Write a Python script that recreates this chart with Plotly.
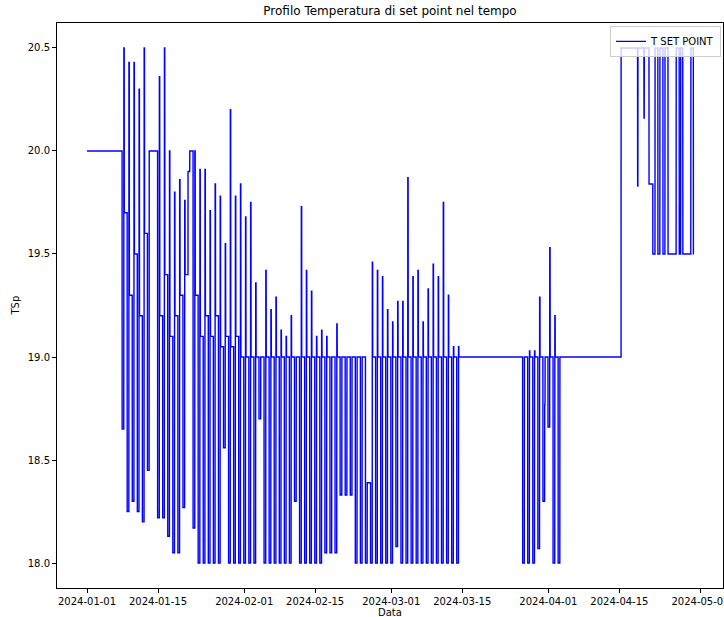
import pandas as pd
import plotly.graph_objects as go

# ---------------- data ----------------
# opening plateau
start_times = ["2024-01-01 00:00", "2024-01-07 22:00"]
start_values = [20.0, 20.0]

# daily cycles Jan 08 .. Mar 14 : night low, morning peak, day level
cycle1_start, cycle1_end = "2024-01-08", "2024-03-14"
cycle1_high = [
    20.50, 20.43, 20.43, 20.30, 20.50, 20.00, 20.00, 20.36, 20.50, 20.00,
    19.80, 19.86, 19.76, 20.00, 20.00, 19.91, 19.91, 19.71, 19.84, 19.78,
    19.55, 20.20, 19.78, 19.84, 19.68, 19.75, 19.36, 19.00, 19.42, 19.23,
    19.29, 19.13, 19.10, 19.20, 19.00, 19.73, 19.42, 19.32, 19.10, 19.13,
    19.10, 19.00, 19.16, 19.00, 19.00, 19.00, 19.00, 19.00, 18.39, 19.46,
    19.42, 19.39, 19.23, 19.17, 19.27, 19.27, 19.87, 19.39, 19.42, 19.17,
    19.33, 19.45, 19.39, 19.75, 19.30, 19.05, 19.05,
]
cycle1_low = [
    18.65, 18.25, 18.30, 18.25, 18.20, 18.45, 20.00, 18.22, 18.22, 18.13,
    18.05, 18.05, 18.27, 19.90, 18.17, 18.00, 18.00, 18.00, 18.00, 18.00,
    18.56, 18.00, 18.00, 18.00, 18.00, 18.00, 18.00, 18.70, 18.00, 18.00,
    18.00, 18.00, 18.00, 18.00, 18.30, 18.00, 18.00, 18.00, 18.00, 18.00,
    18.05, 18.05, 18.05, 18.33, 18.33, 18.33, 18.00, 18.00, 18.00, 18.00,
    18.00, 18.00, 18.00, 18.00, 18.08, 18.00, 18.00, 18.00, 18.00, 18.00,
    18.00, 18.00, 18.00, 18.00, 18.00, 18.00, 18.00,
]
cycle1_base = [
    19.70, 19.30, 19.50, 19.20, 19.60, 20.00, 20.00, 19.20, 19.40, 19.10,
    19.20, 19.30, 19.40, 20.00, 19.30, 19.10, 19.20, 19.10, 19.20, 19.05,
    19.10, 19.05, 19.10, 19.00, 19.00, 19.00, 19.00, 19.00, 19.00, 19.00,
    19.00, 19.00, 19.00, 19.00, 19.00, 19.00, 19.00, 19.00, 19.00, 19.00,
    19.00, 19.00, 19.00, 19.00, 19.00, 19.00, 19.00, 19.00, 18.39, 19.00,
    19.00, 19.00, 19.00, 19.00, 19.00, 19.00, 19.00, 19.00, 19.00, 19.00,
    19.00, 19.00, 19.00, 19.00, 19.00, 19.00, 19.00,
]

# daily cycles Mar 27 .. Apr 03
cycle2_start, cycle2_end = "2024-03-27", "2024-04-03"
cycle2_high = [19.00, 19.03, 19.03, 19.29, 18.77, 19.53, 19.20, 19.00]
cycle2_low = [18.00, 18.00, 18.00, 18.07, 18.30, 18.66, 18.00, 18.00]
cycle2_base = [19.00, 19.00, 19.00, 19.00, 19.00, 19.00, 19.00, 19.00]

# final part (Apr 15 .. Apr 29)
tail_times = [
    "2024-04-15 08:00", "2024-04-15 08:10",
    "2024-04-18 14:00", "2024-04-18 14:30", "2024-04-18 15:30", "2024-04-18 16:00",
    "2024-04-19 20:00", "2024-04-19 20:30", "2024-04-19 21:30", "2024-04-19 22:00",
    "2024-04-20 20:00", "2024-04-20 20:30", "2024-04-21 14:00", "2024-04-21 14:30",
    "2024-04-22 00:30", "2024-04-22 01:00", "2024-04-22 14:00", "2024-04-22 14:30",
    "2024-04-22 23:30", "2024-04-23 00:00", "2024-04-23 14:00", "2024-04-23 14:30",
    "2024-04-23 23:30", "2024-04-24 00:00", "2024-04-24 14:00", "2024-04-24 14:30",
    "2024-04-26 04:30", "2024-04-26 05:00", "2024-04-26 19:00", "2024-04-26 19:30",
    "2024-04-27 02:00", "2024-04-27 02:30", "2024-04-27 12:00", "2024-04-27 12:30",
    "2024-04-29 02:00", "2024-04-29 02:30", "2024-04-29 14:00", "2024-04-29 14:30",
    "2024-04-29 16:00",
]
tail_values = [
    19.0, 20.5,
    20.5, 19.83, 19.83, 20.5,
    20.5, 20.16, 20.16, 20.5,
    20.5, 19.84, 19.84, 19.5,
    19.5, 20.5, 20.5, 19.5,
    19.5, 20.5, 20.5, 19.5,
    19.5, 20.5, 20.5, 19.5,
    19.5, 20.5, 20.5, 19.5,
    19.5, 20.5, 20.5, 19.5,
    19.5, 20.5, 20.5, 19.5,
    19.5,
]

x_tick_dates = ["2024-01-01", "2024-01-15", "2024-02-01", "2024-02-15", "2024-03-01",
                "2024-03-15", "2024-04-01", "2024-04-15", "2024-05-01"]
y_ticks = [18.0, 18.5, 19.0, 19.5, 20.0, 20.5]

# ---------------- build the series ----------------
times = list(pd.to_datetime(start_times))
values = list(start_values)
H = pd.Timedelta(hours=1)


def add_cycles(start, end, highs, lows, bases, prev_base):
    days = pd.date_range(start, end, freq="D")
    for D, hi, lo, b in zip(days, highs, lows, bases):
        times.extend([D - 2 * H, D - 1.8 * H, D + 6 * H, D + 6.5 * H, D + 8 * H, D + 8.5 * H])
        values.extend([prev_base, lo, lo, hi, hi, b])
        prev_base = b
    return prev_base


last = add_cycles(cycle1_start, cycle1_end, cycle1_high, cycle1_low, cycle1_base, start_values[-1])
last = add_cycles(cycle2_start, cycle2_end, cycle2_high, cycle2_low, cycle2_base, last)
times.extend(pd.to_datetime(tail_times))
values.extend(tail_values)

# ---------------- figure ----------------
font = "DejaVu Sans"
fig = go.Figure()
fig.add_trace(go.Scatter(
    x=times, y=values, mode="lines", name="T SET POINT",
    line=dict(color="#0000ff", width=1.4), showlegend=True,
))

axis_common = dict(
    showline=True, mirror=True, linecolor="black", linewidth=1,
    ticks="outside", ticklen=4, tickwidth=1, tickcolor="black",
    showgrid=False, zeroline=False, automargin=False,
    tickfont=dict(family=font, size=10, color="black"),
)

fig.update_layout(
    width=724, height=617,
    margin=dict(l=57, r=1, t=23, b=29),
    paper_bgcolor="white", plot_bgcolor="white",
    font=dict(family=font, size=10, color="black"),
    title=dict(text="Profilo Temperatura di set point nel tempo",
               x=0.5, xref="paper", xanchor="center",
               y=1 - 11 / 617, yref="container", yanchor="middle",
               font=dict(family=font, size=12, color="black")),
    xaxis=dict(type="date", range=["2023-12-26 01:55", "2024-05-05 10:30"],
               tickvals=x_tick_dates, ticktext=x_tick_dates,
               ticklabeloverflow="allow", **axis_common),
    yaxis=dict(range=[17.879, 20.621], tickvals=y_ticks,
               ticktext=[f"{v:.1f}" for v in y_ticks], **axis_common),
    legend=dict(x=0.997, y=0.995, xanchor="right", yanchor="top",
                bgcolor="rgba(255,255,255,0.8)", bordercolor="#cccccc", borderwidth=1,
                tracegroupgap=0, itemwidth=30,
                font=dict(family=font, size=10, color="black")),
    annotations=[
        dict(text="TSp", xref="paper", yref="paper", x=-0.063, y=0.5,
             xanchor="center", yanchor="middle", textangle=-90, showarrow=False,
             font=dict(family=font, size=10, color="black")),
        dict(text="Data", xref="paper", yref="paper", x=0.5, y=-0.0425,
             xanchor="center", yanchor="middle", showarrow=False,
             font=dict(family=font, size=10, color="black")),
    ],
    showlegend=True,
)

fig.write_html("out.html")
